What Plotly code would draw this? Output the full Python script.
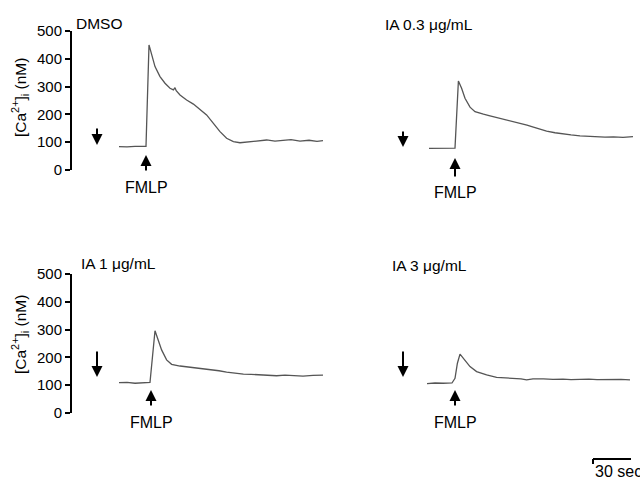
import plotly.graph_objects as go

# ---------------- data (time in s, [Ca2+]i in nM) ----------------
t_dmso = [0, 4, 8, 12, 13.5, 15, 16.3, 18, 20.5, 23, 25.5, 27.2, 28, 28.6, 30.5, 33.8, 37.2,
          40.5, 43.8, 47.2, 50.5, 53.8, 57.2, 60.5, 65.5, 70, 73.8, 78, 82.2, 86, 90.5, 95, 99, 102]
v_dmso = [84, 83, 85, 84, 85, 450, 414, 372, 336, 312, 294, 288, 296, 285, 270, 252, 237,
          219, 198, 168, 138, 114, 102, 98, 102, 105, 108, 104, 106, 109, 104, 107, 103, 106]

t_03 = [0, 4, 8, 13, 14.7, 16.3, 18, 20.5, 23, 25, 27.2, 30, 32.2, 35, 38.8, 42, 45.5, 49,
        52.2, 55, 58.8, 63, 67.2, 71, 75.5, 79, 83.8, 88, 92.2, 97, 102]
v_03 = [78, 79, 78, 79, 320, 294, 258, 226, 210, 205, 201, 196, 192, 188, 182, 176, 168, 161,
        154, 147, 140, 134, 129, 126, 123, 121, 120, 118, 119, 117, 120]

t_1 = [0, 4, 8, 12, 15.5, 18, 19.7, 21.3, 23.8, 26.3, 30.5, 33, 37.2, 41, 45.5, 50, 53.8, 58,
       62.2, 66, 70.5, 75, 78.8, 83, 87.2, 92, 97, 102]
v_1 = [109, 110, 107, 108, 110, 296, 263, 227, 191, 175, 169, 167, 164, 160, 157, 152, 147, 143,
       140, 139, 138, 135, 134, 136, 134, 133, 135, 136]

t_3 = [0, 4, 8, 12.5, 14, 15.2, 16.5, 19, 21.5, 24.8, 29.8, 34.8, 39, 43.2, 47, 49.8, 53, 58.2,
       63, 68, 72, 76.5, 81, 85, 89, 93.2, 97, 101.5]
v_3 = [106, 108, 107, 108, 125, 179, 212, 191, 167, 149, 137, 128, 126, 125, 123, 119, 123, 123,
       121, 122, 120, 121, 122, 120, 121, 122, 121, 119]

panel_titles = ["DMSO", "IA 0.3 μg/mL", "IA 1 μg/mL", "IA 3 μg/mL"]
fmlp_times = [13.5, 13, 16, 14]
y_ticks = [0, 100, 200, 300, 400, 500]
scale_bar_sec = 30

W, H = 640, 481
def px(x): return x / W
def py(y): return 1 - y / H

FONT = "Arial, Liberation Sans, sans-serif"
LINE = "#555555"

fig = go.Figure()
series = [(t_dmso, v_dmso), (t_03, v_03), (t_1, v_1), (t_3, v_3)]
for i, (t, v) in enumerate(series):
    k = "" if i == 0 else str(i + 1)
    fig.add_trace(go.Scatter(x=t, y=v, mode="lines", xaxis="x" + k, yaxis="y" + k,
                             line=dict(color=LINE, width=1.3), showlegend=False,
                             hoverinfo="skip"))

xdom = {1: [px(119), px(323)], 2: [px(429), px(633)], 3: [px(119), px(323)], 4: [px(427), px(631)]}
ydom_top = [py(170), py(31)]
ydom_bot = [py(413), py(274)]
ydom = {1: ydom_top, 2: ydom_top, 3: ydom_bot, 4: ydom_bot}

layout = dict(width=W, height=H, autosize=False,
              margin=dict(l=0, r=0, t=0, b=0, pad=0, autoexpand=False),
              paper_bgcolor="white", plot_bgcolor="rgba(0,0,0,0)",
              font=dict(family=FONT, color="black"), showlegend=False)
for i in range(1, 5):
    k = "" if i == 1 else str(i)
    layout["xaxis" + k] = dict(domain=xdom[i], range=[0, 102], visible=False,
                               anchor="y" + k, fixedrange=True, automargin=False)
    yax = dict(domain=ydom[i], range=[0, 500], anchor="free" if i in (1, 3) else "x" + k,
               fixedrange=True, showgrid=False, zeroline=False, automargin=False)
    if i in (1, 3):
        yax.update(position=px(71), showline=True, linewidth=2, linecolor="black",
                   ticks="outside", ticklen=5, tickwidth=2, tickcolor="black",
                   tickvals=y_ticks, ticktext=[str(v) for v in y_ticks],
                   tickfont=dict(size=15, family=FONT, color="black"))
    else:
        yax.update(visible=False)
    layout["yaxis" + k] = yax
fig.update_layout(**layout)

ann = []
# titles
title_pos = [(74, 23), (383, 25), (79, 263), (390, 265)]
for (x, y), txt in zip(title_pos, panel_titles):
    ann.append(dict(x=px(x), y=py(y), xref="paper", yref="paper", text=txt, showarrow=False,
                    xanchor="left", yanchor="middle", font=dict(size=15.5, family=FONT)))
# y-axis titles
for yc in (98, 335):
    ann.append(dict(x=px(20), y=py(yc), xref="paper", yref="paper",
                    text="[Ca<sup>2+</sup>]<sub>i</sub> (nM)", textangle=-90, showarrow=False,
                    xanchor="center", yanchor="middle", font=dict(size=15.5, family=FONT)))
# down arrows (drug addition)
for x, yhead, ytail in [(97, 145, 127), (403, 147, 130), (97, 377, 350), (403, 377, 350)]:
    ann.append(dict(x=px(x), y=py(yhead), xref="paper", yref="paper", text="",
                    font=dict(size=1), showarrow=True, ax=0, ay=-(yhead - ytail),
                    arrowhead=2, arrowsize=1.1, arrowwidth=2, arrowcolor="black"))
# FMLP up arrows + labels
fm_y = [(155, 172, 187), (158, 178, 193), (390, 407, 422), (390, 407, 422)]
for i, (t0, (yh, yt, ylab)) in enumerate(zip(fmlp_times, fm_y)):
    k = "" if i == 0 else str(i + 1)
    ann.append(dict(x=t0, y=py(yh), xref="x" + k, yref="paper", text="", font=dict(size=1),
                    showarrow=True, ax=0, ay=(yt - yh), arrowhead=2, arrowsize=1.1,
                    arrowwidth=2, arrowcolor="black"))
    ann.append(dict(x=t0, y=py(ylab), xref="x" + k, yref="paper", text="FMLP",
                    showarrow=False, xanchor="center", yanchor="middle",
                    font=dict(size=16, family=FONT)))
# scale bar label
bar_start = 83
ann.append(dict(x=bar_start, y=py(471), xref="x4", yref="paper", text="30 sec",
                showarrow=False, xanchor="left", yanchor="middle",
                font=dict(size=16, family="Liberation Sans, Arial, sans-serif")))
fig.update_layout(annotations=ann)

# scale bar (30 s on the shared time scale)
fig.add_shape(type="line", xref="x4", yref="paper", x0=bar_start, x1=bar_start + scale_bar_sec,
              y0=py(459), y1=py(459), line=dict(color="black", width=2))
fig.add_shape(type="line", xref="x4", yref="paper", x0=bar_start, x1=bar_start,
              y0=py(459), y1=py(464), line=dict(color="black", width=2))

fig.write_html("out.html", config={"responsive": False, "displayModeBar": False},
               post_script="document.body.style.margin='0';document.body.style.overflow='hidden';")
